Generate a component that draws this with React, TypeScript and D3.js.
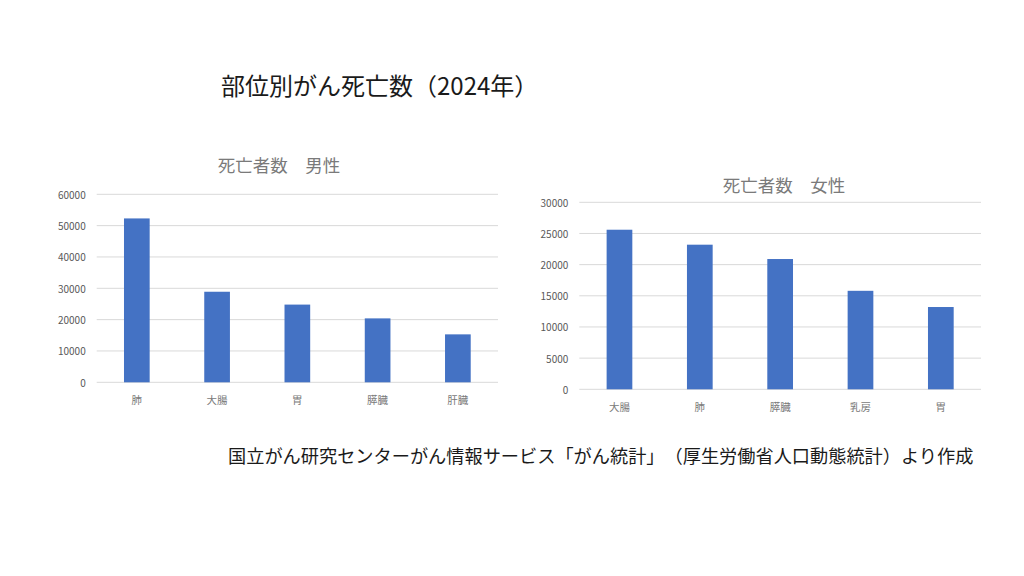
import { useEffect, useRef } from 'react';
import * as d3 from 'd3';

const maleOrgans = ['肺', '大腸', '胃', '膵臓', '肝臓'];
const maleDeaths = [52300, 28900, 24800, 20400, 15300];
const maleTicks = [0, 10000, 20000, 30000, 40000, 50000, 60000];

const femaleOrgans = ['大腸', '肺', '膵臓', '乳房', '胃'];
const femaleDeaths = [25600, 23200, 20900, 15800, 13200];
const femaleTicks = [0, 5000, 10000, 15000, 20000, 25000, 30000];

const FONT = '"Noto Sans CJK JP", "Noto Sans", sans-serif';

interface PanelSpec {
  title: string;
  organs: string[];
  deaths: number[];
  ticks: number[];
  left: number;
  right: number;
  top: number;
  bottom: number;
  titleX: number;
  titleY: number;
}

function drawPanel(svg: d3.Selection<SVGSVGElement, unknown, null, undefined>, spec: PanelSpec) {
  const g = svg.append('g');
  const yMax = spec.ticks[spec.ticks.length - 1];
  const y = d3.scaleLinear().domain([0, yMax]).range([spec.bottom, spec.top]);
  const x = d3.scaleBand().domain(spec.organs).range([spec.left, spec.right]).paddingInner(0.68).paddingOuter(0.34);

  g.append('text')
    .attr('x', spec.titleX)
    .attr('y', spec.titleY)
    .attr('text-anchor', 'middle')
    .attr('dominant-baseline', 'central')
    .attr('font-size', 17.5)
    .attr('fill', '#7a7a7a')
    .text(spec.title);

  spec.ticks.forEach((t) => {
    g.append('line')
      .attr('x1', spec.left)
      .attr('x2', spec.right)
      .attr('y1', y(t))
      .attr('y2', y(t))
      .attr('stroke', '#d9d9d9')
      .attr('stroke-width', 1);
    g.append('text')
      .attr('x', spec.left - 11)
      .attr('y', y(t))
      .attr('text-anchor', 'end')
      .attr('dominant-baseline', 'central')
      .attr('font-size', 10)
      .attr('fill', '#595959')
      .text(String(t));
  });

  spec.organs.forEach((organ, i) => {
    g.append('rect')
      .attr('x', x(organ) ?? 0)
      .attr('y', y(spec.deaths[i]))
      .attr('width', x.bandwidth())
      .attr('height', spec.bottom - y(spec.deaths[i]))
      .attr('fill', '#4472c4');
    g.append('text')
      .attr('x', (x(organ) ?? 0) + x.bandwidth() / 2)
      .attr('y', spec.bottom + 17)
      .attr('text-anchor', 'middle')
      .attr('dominant-baseline', 'central')
      .attr('font-size', 10.5)
      .attr('fill', '#7a7a7a')
      .text(organ);
  });
}

export default function App() {
  const ref = useRef<SVGSVGElement>(null);

  useEffect(() => {
    const el = ref.current;
    if (!el) return;
    const svg = d3.select(el);
    svg.selectAll('*').remove();
    svg.attr('font-family', FONT);

    svg.append('rect').attr('width', 1024).attr('height', 576).attr('fill', '#ffffff');

    svg.append('text')
      .attr('x', 221)
      .attr('y', 84)
      .attr('dominant-baseline', 'central')
      .attr('font-size', 24)
      .attr('fill', '#1a1a1a')
      .text('部位別がん死亡数（2024年）');

    drawPanel(svg, {
      title: '死亡者数　男性',
      organs: maleOrgans,
      deaths: maleDeaths,
      ticks: maleTicks,
      left: 96.7,
      right: 498,
      top: 194.3,
      bottom: 382.3,
      titleX: 279,
      titleY: 164,
    });

    drawPanel(svg, {
      title: '死亡者数　女性',
      organs: femaleOrgans,
      deaths: femaleDeaths,
      ticks: femaleTicks,
      left: 579.3,
      right: 981,
      top: 202.3,
      bottom: 389.3,
      titleX: 784,
      titleY: 184,
    });

    svg.append('text')
      .attr('x', 228)
      .attr('y', 455)
      .attr('dominant-baseline', 'central')
      .attr('font-size', 18.2)
      .attr('fill', '#1a1a1a')
      .text('国立がん研究センターがん情報サービス「がん統計」（厚生労働省人口動態統計）より作成');
  }, []);

  return (
    <svg
      ref={ref}
      width={1024}
      height={576}
      style={{ position: 'absolute', left: 0, top: 0, display: 'block', textSpacingTrim: 'space-all' } as any}
    />
  );
}
